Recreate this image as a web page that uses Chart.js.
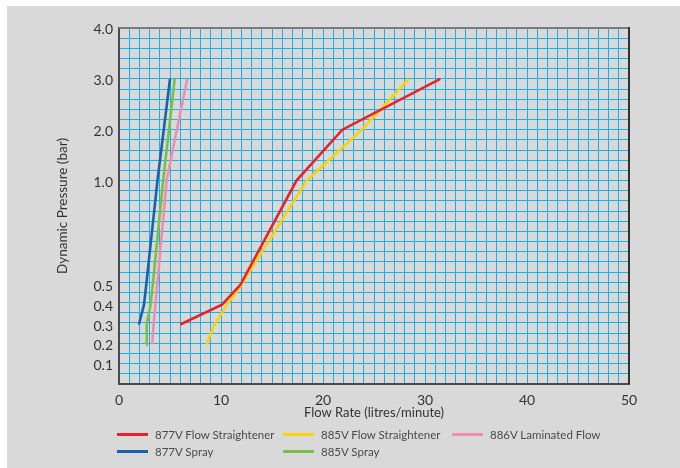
<!DOCTYPE html>
<html>
<head>
<meta charset="utf-8">
<script src="https://cdn.jsdelivr.net/npm/chart.js@4.4.1/dist/chart.umd.min.js"></script>
<style>
html,body{margin:0;padding:0;background:#ffffff;}
#wrap{position:relative;width:680px;height:468px;overflow:hidden;}
#bg{position:absolute;left:7px;top:6px;right:0;bottom:0;background:#d9d9d9;}
#chart{position:absolute;left:0;top:0;}
#legend{position:absolute;left:0;top:0;width:680px;height:468px;pointer-events:none;
  font-family:Lato,"Open Sans",sans-serif;font-size:11.5px;color:#4a4a4a;}
.item{position:absolute;height:16px;display:flex;align-items:center;white-space:nowrap;}
.sw{width:31px;height:3px;margin-right:7px;}
</style>
</head>
<body>
<div id="wrap">
  <div id="bg"></div>
  <canvas id="chart" width="680" height="468"></canvas>
  <div id="legend"></div>
</div>
<script>
// ---- data ----
const pressureLevels7 = [0.2, 0.3, 0.4, 0.5, 1.0, 2.0, 3.0];
const pressureLevels6 = [0.3, 0.4, 0.5, 1.0, 2.0, 3.0];

const flow877FlowStraightener = [6.0, 10.1, 11.9, 17.4, 21.9, 31.5];   // at pressureLevels6
const flow885FlowStraightener = [8.6, 9.35, 10.6, 12.0, 18.4, 23.8, 28.4]; // at pressureLevels7
const flow886LaminatedFlow    = [3.26, 3.39, 3.57, 3.75, 4.67, 5.67, 6.7]; // at pressureLevels7
const flow877Spray            = [1.95, 2.45, 2.67, 3.77, 4.39, 5.0];     // at pressureLevels6
const flow885Spray            = [2.65, 2.72, 3.1, 3.31, 4.33, 4.9, 5.46]; // at pressureLevels7

const seriesNames  = ['877V Flow Straightener', '885V Flow Straightener', '886V Laminated Flow', '877V Spray', '885V Spray'];
const seriesColors = ['#e8212b', '#fdd20b', '#f18db5', '#1862a9', '#79c142'];

const yTickValues = [0.1, 0.2, 0.3, 0.4, 0.5, 1.0, 2.0, 3.0, 4.0];
const xTickStep = 10;

// ---- piecewise pressure scale (the printed chart's non-uniform axis) ----
const GRID_ROWS = 35;
const yBreaks = [[0, 0], [0.5, 9.75], [1.0, 20], [4.0, 35]]; // pressure -> grid row

function toRow(v) {
  for (let i = 1; i < yBreaks.length; i++) {
    const [v0, r0] = yBreaks[i - 1], [v1, r1] = yBreaks[i];
    if (v <= v1 || i === yBreaks.length - 1) return r0 + (v - v0) * (r1 - r0) / (v1 - v0);
  }
}
function fromRow(r) {
  for (let i = 1; i < yBreaks.length; i++) {
    const [v0, r0] = yBreaks[i - 1], [v1, r1] = yBreaks[i];
    if (r <= r1 || i === yBreaks.length - 1) return v0 + (r - r0) * (v1 - v0) / (r1 - r0);
  }
}

class PiecewiseScale extends Chart.LinearScale {
  buildTicks() {
    this.start = this.min; this.end = this.max;
    return yTickValues.map(v => ({ value: v }));
  }
  getPixelForValue(v) { return this.getPixelForDecimal(toRow(v) / GRID_ROWS); }
  getValueForPixel(p) { return fromRow(this.getDecimalForPixel(p) * GRID_ROWS); }
}
PiecewiseScale.id = 'piecewise';
PiecewiseScale.defaults = Chart.LinearScale.defaults;
Chart.register(PiecewiseScale);

function pts(xs, ys) { return xs.map((x, i) => ({ x: x, y: ys[i] })); }

const allSeries = [
  pts(flow877FlowStraightener, pressureLevels6),
  pts(flow885FlowStraightener, pressureLevels7),
  pts(flow886LaminatedFlow, pressureLevels7),
  pts(flow877Spray, pressureLevels6),
  pts(flow885Spray, pressureLevels7)
];

const FONT = 'Lato, "Open Sans", sans-serif';
const GRID = '#19b1ea';

const frame = {
  id: 'frame',
  afterDraw(chart) {
    const { ctx, chartArea: a } = chart;
    ctx.save();
    ctx.lineWidth = 2;
    ctx.strokeStyle = '#7a7a7a';
    ctx.beginPath(); ctx.moveTo(a.left, a.top); ctx.lineTo(a.right, a.top); ctx.stroke();
    ctx.strokeStyle = '#333333';
    ctx.beginPath(); ctx.moveTo(a.right, a.top - 1); ctx.lineTo(a.right, a.bottom); ctx.stroke();
    ctx.restore();
  }
};

new Chart(document.getElementById('chart'), {
  type: 'line',
  data: {
    datasets: allSeries.map((d, i) => ({
      label: seriesNames[i],
      data: d,
      borderColor: seriesColors[i],
      backgroundColor: seriesColors[i],
      borderWidth: 2.6,
      pointRadius: 0,
      tension: 0,
      fill: false,
      yAxisID: 'y',
      xAxisID: 'x'
    }))
  },
  options: {
    responsive: false,
    animation: false,
    devicePixelRatio: 1,
    layout: { padding: { top: 28, right: 51, left: 0, bottom: 0 } },
    plugins: { legend: { display: false }, tooltip: { enabled: false } },
    scales: {
      x: {
        type: 'linear', min: 0, max: 50,
        afterFit: s => { s.height = 84; },
        grid: { color: GRID, lineWidth: 1, drawTicks: false },
        border: { display: true, color: '#4a4a4a', width: 2 },
        ticks: {
          stepSize: 1, autoSkip: false, maxRotation: 0, padding: 8,
          color: '#333', font: { family: FONT, size: 14 },
          callback: v => (v % xTickStep === 0 ? String(v) : '')
        },
        title: {
          display: true, text: 'Flow Rate (litres/minute)', color: '#333',
          font: { family: FONT, size: 13 }, padding: { top: 0, bottom: 47 }
        }
      },
      yg: {
        type: 'linear', position: 'left', min: 0, max: GRID_ROWS,
        afterFit: s => { s.width = 0; },
        grid: { color: GRID, lineWidth: 1, drawTicks: false },
        border: { display: false },
        ticks: { display: false, stepSize: 1 }
      },
      y: {
        type: 'piecewise', position: 'left', min: 0, max: 4,
        afterFit: s => { s.width = 119; },
        grid: { display: false, drawTicks: false },
        border: { display: true, color: '#4a4a4a', width: 2 },
        ticks: {
          autoSkip: false, padding: 6, labelOffset: 1.5, color: '#333', font: { family: FONT, size: 14 },
          callback: v => Number(v).toFixed(1)
        },
        title: {
          display: true, text: 'Dynamic Pressure (bar)', color: '#333',
          font: { family: FONT, size: 13.5 }, padding: { top: 55, bottom: 0 }
        }
      }
    }
  },
  plugins: [frame]
});

// ---- HTML legend (aligned columns as in the reference) ----
const legendSlots = [[117, 434], [283, 434], [452, 434], [117, 451], [283, 451]];
const lg = document.getElementById('legend');
seriesNames.forEach((name, i) => {
  const it = document.createElement('div');
  it.className = 'item';
  it.style.left = legendSlots[i][0] + 'px';
  it.style.top = (legendSlots[i][1] - 8) + 'px';
  const sw = document.createElement('span');
  sw.className = 'sw';
  sw.style.background = seriesColors[i];
  const tx = document.createElement('span');
  tx.textContent = name;
  it.appendChild(sw); it.appendChild(tx);
  lg.appendChild(it);
});
</script>
</body>
</html>
